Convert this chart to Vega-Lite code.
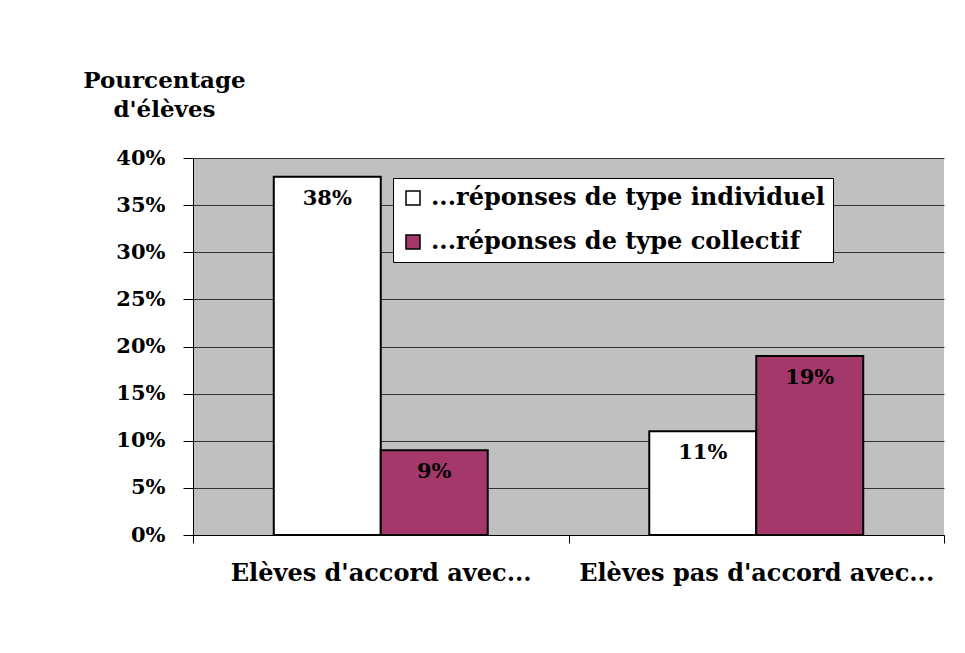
{
  "$schema": "https://vega.github.io/schema/vega-lite/v6.json",
  "width": 751,
  "height": 377,
  "autosize": {"type": "none"},
  "padding": {"left": 193, "top": 158, "right": 21, "bottom": 118},
  "background": "white",
  "config": {
    "view": {"fill": "#C0C0C0", "stroke": null},
    "font": "DejaVu Serif"
  },
  "data": {
    "values": [
      {"groupe": "Elèves d'accord avec...", "type": "...réponses de type individuel", "pct": 0.38},
      {"groupe": "Elèves d'accord avec...", "type": "...réponses de type collectif", "pct": 0.09},
      {"groupe": "Elèves pas d'accord avec...", "type": "...réponses de type individuel", "pct": 0.11},
      {"groupe": "Elèves pas d'accord avec...", "type": "...réponses de type collectif", "pct": 0.19}
    ]
  },
  "encoding": {
    "x": {
      "field": "groupe",
      "type": "nominal",
      "sort": null,
      "scale": {"paddingInner": 0, "paddingOuter": 0},
      "axis": {
        "title": null,
        "labelAngle": 0,
        "labelFont": "DejaVu Serif",
        "labelFontSize": 24,
        "labelFontWeight": "bold",
        "labelColor": "black",
        "labelPadding": 18,
        "labelLimit": 400,
        "tickBand": "extent",
        "tickSize": 8,
        "tickColor": "black",
        "domainColor": "black",
        "domainWidth": 1,
        "grid": false
      }
    },
    "xOffset": {
      "field": "type",
      "sort": null,
      "scale": {"paddingInner": 0, "paddingOuter": 0.755}
    },
    "y": {
      "field": "pct",
      "type": "quantitative",
      "scale": {"domain": [0, 0.4], "nice": false},
      "axis": {
        "title": ["Pourcentage", "d'élèves"],
        "titleAngle": 0,
        "titleAlign": "center",
        "titleBaseline": "top",
        "titleX": -29,
        "titleY": -89,
        "titleFont": "DejaVu Serif",
        "titleFontSize": 23,
        "titleFontWeight": "bold",
        "titleColor": "black",
        "titleLineHeight": 29,
        "values": [0, 0.05, 0.1, 0.15, 0.2, 0.25, 0.3, 0.35, 0.4],
        "format": ".0%",
        "labelFont": "DejaVu Serif",
        "labelFontSize": 21,
        "labelFontWeight": "bold",
        "labelColor": "black",
        "labelPadding": 18,
        "tickSize": 10,
        "tickColor": "black",
        "domainColor": "black",
        "gridColor": "#333333",
        "gridWidth": 1
      }
    }
  },
  "layer": [
    {
      "mark": {"type": "bar", "stroke": "black", "strokeWidth": 2},
      "encoding": {
        "color": {
          "field": "type",
          "type": "nominal",
          "sort": null,
          "scale": {
            "domain": ["...réponses de type individuel", "...réponses de type collectif"],
            "range": ["#FFFFFF", "#A5386B"]
          },
          "legend": {
            "orient": "none",
            "legendX": 200,
            "legendY": 20,
            "title": null,
            "fillColor": "white",
            "strokeColor": "black",
            "padding": 8,
            "symbolType": "square",
            "symbolSize": 196,
            "symbolStrokeColor": "black",
            "symbolStrokeWidth": 1.5,
            "symbolOpacity": 1,
            "labelFont": "DejaVu Serif",
            "labelFontSize": 24,
            "labelFontWeight": "bold",
            "labelColor": "black",
            "labelLimit": 500,
            "labelOffset": 6,
            "rowPadding": 20
          }
        }
      }
    },
    {
      "mark": {"type": "text", "baseline": "top", "dy": 11, "fontSize": 21, "fontWeight": "bold", "font": "DejaVu Serif", "color": "black"},
      "encoding": {
        "text": {"field": "pct", "type": "quantitative", "format": ".0%"}
      }
    }
  ]
}
